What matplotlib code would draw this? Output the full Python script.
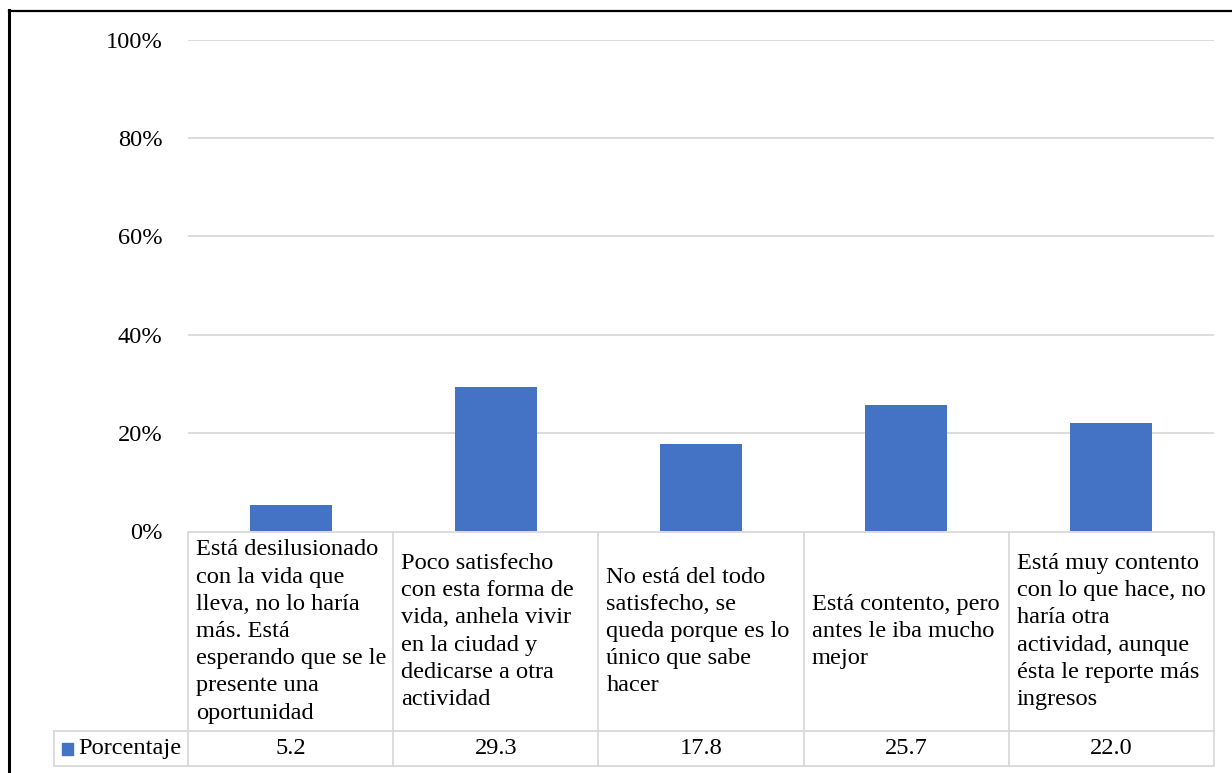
import matplotlib
matplotlib.use("Agg")
import matplotlib.pyplot as plt
from matplotlib.transforms import blended_transform_factory
from matplotlib.patches import Rectangle
from matplotlib.lines import Line2D

plt.rcParams['font.family'] = ['Liberation Serif', 'DejaVu Serif']

# Data
categories = [
    "Está desilusionado\ncon la vida que\nlleva, no lo haría\nmás. Está\nesperando que se le\npresente una\noportunidad",
    "Poco satisfecho\ncon esta forma de\nvida, anhela vivir\nen la ciudad y\ndedicarse a otra\nactividad",
    "No está del todo\nsatisfecho, se\nqueda porque es lo\núnico que sabe\nhacer",
    "Está contento, pero\nantes le iba mucho\nmejor",
    "Está muy contento\ncon lo que hace, no\nharía otra\nactividad, aunque\nésta le reporte más\ningresos",
]
values = [5.2, 29.3, 17.8, 25.7, 22.0]
series_name = "Porcentaje"
yticks = [0, 20, 40, 60, 80, 100]
ytick_labels = ["0%", "20%", "40%", "60%", "80%", "100%"]

BAR = "#4472C4"
GRID = "#D9D9D9"
FS = 17.6

W, H = 1232, 773
fig = plt.figure(figsize=(W / 100, H / 100), dpi=100)

# axes placement (pixel-based)
left, right, top, bottom = 188, 1214, 40, 531
ax = fig.add_axes([left / W, 1 - bottom / H, (right - left) / W, (bottom - top) / H])

n = len(values)
xs = list(range(n))
ax.bar(xs, values, width=0.4, color=BAR, zorder=3)
ax.set_xlim(-0.5, n - 0.5)
ax.set_ylim(0, 100)
ax.set_yticks(yticks)
ax.set_yticklabels(ytick_labels, fontsize=FS)
ax.tick_params(axis='y', length=0, pad=18.5)
ax.set_xticks([])
for y in yticks[1:]:
    ax.axhline(y, color=GRID, lw=1.3, zorder=1)
for s in ax.spines.values():
    s.set_visible(False)

# data table below the axes
trans = blended_transform_factory(ax.transData, ax.transAxes)
px = 1.0 / (bottom - top)  # one pixel in axes fraction
colpx = (right - left) / n  # pixels per category
row1_top = 0.0 - 1 * px
row1_bot = -(731 - bottom) * px
row2_bot = -(766 - bottom) * px
x_leg = -0.5 - (left - 54) / colpx

lk = dict(color=GRID, lw=1.3, transform=trans, clip_on=False)
ax.add_line(Line2D([-0.5, n - 0.5], [row1_top, row1_top], **lk))
ax.add_line(Line2D([x_leg, n - 0.5], [row1_bot, row1_bot], **lk))
ax.add_line(Line2D([x_leg, n - 0.5], [row2_bot, row2_bot], **lk))
ax.add_line(Line2D([x_leg, x_leg], [row1_bot, row2_bot], **lk))
for i in range(n + 1):
    ax.add_line(Line2D([i - 0.5, i - 0.5], [row1_top, row2_bot], **lk))

pad = 8 / colpx
for i, (cat, v) in enumerate(zip(categories, values)):
    ax.text(i - 0.5 + pad, (row1_top + row1_bot) / 2, cat, transform=trans,
            ha='left', va='center', fontsize=FS, linespacing=1.39)
    ax.text(i, (row1_bot + row2_bot) / 2, f"{v:.1f}", transform=trans,
            ha='center', va='center', fontsize=FS)

# legend key in the table
ax.add_patch(Rectangle((x_leg + 8 / colpx, (row1_bot + row2_bot) / 2 - 6 * px),
                       11 / colpx, 12 * px, transform=trans, color=BAR, clip_on=False))
ax.text(x_leg + 24 / colpx, (row1_bot + row2_bot) / 2, series_name,
        transform=trans, ha='left', va='center', fontsize=FS)

# outer frame (left and top edges)
fig.add_artist(Line2D([9 / W, 9 / W], [0, 1 - 10 / H], color='black', lw=2.2,
                      transform=fig.transFigure))
fig.add_artist(Line2D([9 / W, 1], [1 - 10.5 / H, 1 - 10.5 / H], color='black', lw=1.6,
                      transform=fig.transFigure))

fig.savefig("out.png", dpi=100)
